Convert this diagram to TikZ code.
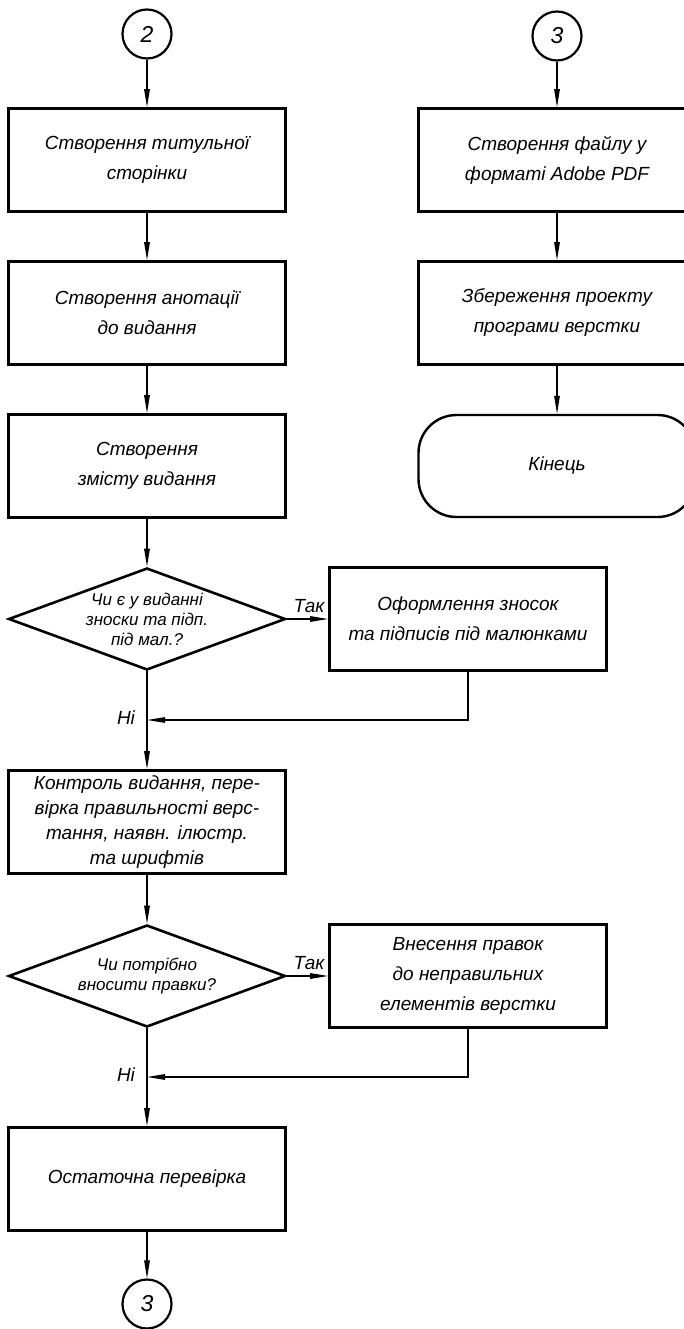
\documentclass[tikz,border=0pt]{standalone}
\usepackage{fontspec}
\setmainfont{Liberation Sans}
\usetikzlibrary{shapes.geometric,arrows.meta}

\begin{document}
\begin{tikzpicture}[x=1pt,y=-1pt,>={Triangle[length=18pt,width=5.5pt]},line width=1.2pt]
    \tikzstyle{block}=[rectangle,draw=black,line width=2.6pt,minimum width=277pt,minimum height=103pt,inner sep=0pt,align=center,font=\itshape\fontsize{19}{30}\selectfont]
    \tikzstyle{decision}=[diamond,draw=black,line width=2.6pt,aspect=2.7,minimum width=277pt,minimum height=102pt,inner sep=-4pt,align=center,font=\itshape\fontsize{17}{20}\selectfont]
    \tikzstyle{term}=[rectangle,rounded corners=38pt,draw=black,line width=2.4pt,minimum width=277pt,minimum height=102pt,font=\itshape\fontsize{19}{30}\selectfont]
    \tikzstyle{conn}=[circle,draw=black,line width=2.2pt,minimum size=49pt,inner sep=0pt,font=\itshape\fontsize{23}{24}\selectfont]
    \tikzstyle{lbl}=[font=\itshape\fontsize{19}{22}\selectfont,inner sep=0pt]
    \useasboundingbox (0,0) rectangle (683,1329);

    % left column
    \node[conn] (C-2) at (147,34) {2};
    \foreach \name/\y/\txt in {B-1/160/{Створення титульної\\сторінки},
                               B-2/313/{Створення анотації\\до видання},
                               B-3/466/{Створення\\змісту видання},
                               O-1/1179/{Остаточна перевірка}}
        \node[block] (\name) at (147,\y) {\txt};
    \node[block,font=\itshape\fontsize{19}{25}\selectfont] (K-1) at (147,822) {Контроль видання, пере-\\вірка правильності верс-\\тання, наявн. ілюстр.\\та шрифтів};
    \node[decision] (D-1) at (147,619) {Чи є у виданні\\зноски та підп.\\під мал.?};
    \node[decision] (D-2) at (147,976) {Чи потрібно\\вносити правки?};
    \node[block] (F-1) at (468,619) {Оформлення зносок\\та підписів під малюнками};
    \node[block] (F-2) at (468,976) {Внесення правок\\до неправильних\\елементів верстки};
    \node[conn] (C-3b) at (147,1304) {3};

    % right column
    \node[conn] (C-3) at (557,36) {3};
    \node[block] (P-1) at (557,160) {Створення файлу у\\форматі Adobe PDF};
    \node[block] (P-2) at (557,313) {Збереження проекту\\програми верстки};
    \node[term] (END) at (557,466) {Кінець};

    \foreach \from/\to in {C-2/B-1, B-1/B-2, B-2/B-3, B-3/D-1, D-1/K-1, K-1/D-2, D-2/O-1, O-1/C-3b, C-3/P-1, P-1/P-2, P-2/END}
        \draw[->] (\from) -- (\to);

    \coordinate (J-1) at (147,720);
    \coordinate (J-2) at (147,1077);
    \draw[->] (D-1.east) -- (F-1.west);
    \draw[->] (D-2.east) -- (F-2.west);
    \draw[->] (F-1.south) |- (J-1);
    \draw[->] (F-2.south) |- (J-2);

    \node[lbl] (T-1) at (309,606) {Так};
    \node[lbl] (T-2) at (309,963) {Так};
    \node[lbl] (N-1) at (126,718) {Ні};
    \node[lbl] (N-2) at (126,1075) {Ні};
\end{tikzpicture}
\end{document}
